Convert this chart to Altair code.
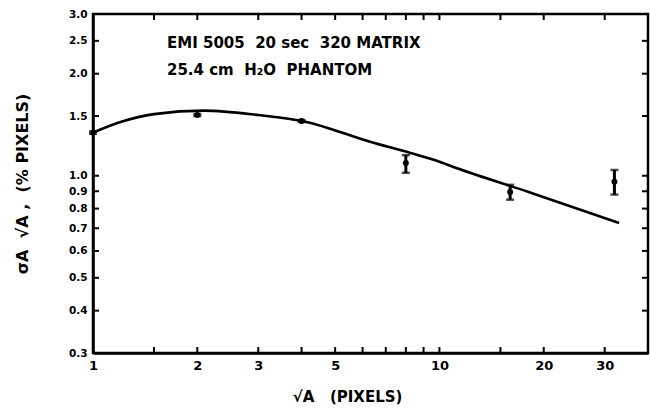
import altair as alt
import pandas as pd

# measured data points (sqrt(A) in pixels, sigma_A*sqrt(A) in % pixels)
pt_x = [1, 2, 4, 8, 16, 32]
pt_y = [1.34, 1.51, 1.45, 1.09, 0.895, 0.96]
pt_lo = [1.33, 1.50, 1.44, 1.02, 0.85, 0.88]
pt_hi = [1.35, 1.52, 1.46, 1.15, 0.94, 1.04]

# fitted curve
curve_x = [1.0, 1.2, 1.5, 2.1, 3.0, 4.1, 6.3, 8.25, 10.0, 11.3, 18.0, 33.0]
curve_y = [1.34, 1.44, 1.52, 1.556, 1.51, 1.444, 1.26, 1.167, 1.10, 1.05, 0.897, 0.725]

x_ticks = [1, 1.5, 2, 3, 4, 5, 6, 7, 8, 9, 10, 15, 20, 30]
x_labels = [1, 2, 3, 5, 10, 20, 30]
y_ticks = [0.3, 0.4, 0.5, 0.6, 0.7, 0.8, 0.9, 1.0, 1.5, 2.0, 2.5, 3.0]

NB = "\u00a0"
note_lines = ["EMI 5005" + NB * 2 + "20 sec" + NB * 2 + "320 MATRIX",
              "25.4 cm" + NB * 2 + "H\u2082O" + NB * 2 + "PHANTOM"]

W, H = 555, 339
FONT = "DejaVu Sans"

pts = pd.DataFrame({"x": pt_x, "y": pt_y, "lo": pt_lo, "hi": pt_hi})
curve = pd.DataFrame({"x": curve_x, "y": curve_y})
xt = pd.DataFrame({"x": x_ticks})
yt = pd.DataFrame({"y": y_ticks})

xscale = alt.Scale(type="log", domain=[1, 40], nice=False)
yscale = alt.Scale(type="log", domain=[0.3, 3.0], nice=False)

xaxis = alt.Axis(values=x_labels, ticks=False, grid=False, labelFlush=False,
                 domainColor="black", domainWidth=2.5,
                 labelFont=FONT, labelFontWeight="bold", labelFontSize=13,
                 labelColor="black", labelPadding=6,
                 title="\u221aA" + NB * 3 + "(PIXELS)", titleFont=FONT, titleFontSize=15,
                 titleFontWeight="bold", titleColor="black",
                 titleX=254, titleY=48, titleBaseline="alphabetic")
yaxis = alt.Axis(values=y_ticks, ticks=False, grid=False, labelFlush=False,
                 labelExpr="format(datum.value, '.1f')",
                 domainColor="black", domainWidth=2.5,
                 labelFont=FONT, labelFontWeight="bold", labelFontSize=10.5,
                 labelColor="black", labelPadding=6,
                 title="\u03c3A" + NB * 2 + "\u221aA ," + NB * 2 + "(% PIXELS)", titleFont=FONT,
                 titleFontSize=16, titleFontWeight="bold", titleColor="black",
                 titleX=-71, titleY=H / 2, titleAngle=270,
                 titleAlign="center", titleBaseline="middle")

line = alt.Chart(curve).mark_line(color="black", strokeWidth=2.6,
                                  interpolate="monotone", clip=True).encode(
    x=alt.X("x:Q", scale=xscale, axis=xaxis),
    y=alt.Y("y:Q", scale=yscale, axis=yaxis),
)

dots = alt.Chart(pts).mark_circle(color="black", size=36, opacity=1).encode(
    x=alt.X("x:Q", scale=xscale), y=alt.Y("y:Q", scale=yscale))

bars = alt.Chart(pts).mark_rule(color="black", strokeWidth=3).encode(
    x=alt.X("x:Q", scale=xscale), y=alt.Y("lo:Q", scale=yscale), y2="hi:Q")

caps_lo = alt.Chart(pts).mark_tick(color="black", orient="horizontal",
                                   size=8, thickness=2.5).encode(
    x=alt.X("x:Q", scale=xscale), y=alt.Y("lo:Q", scale=yscale))
caps_hi = alt.Chart(pts).mark_tick(color="black", orient="horizontal",
                                   size=8, thickness=2.5).encode(
    x=alt.X("x:Q", scale=xscale), y=alt.Y("hi:Q", scale=yscale))

tb = alt.Chart(xt).mark_rule(color="black", strokeWidth=2).encode(
    x=alt.X("x:Q", scale=xscale), y=alt.value(H), y2=alt.value(H - 6))
tt = alt.Chart(xt).mark_rule(color="black", strokeWidth=2).encode(
    x=alt.X("x:Q", scale=xscale), y=alt.value(0), y2=alt.value(6))
tl = alt.Chart(yt).mark_rule(color="black", strokeWidth=2).encode(
    y=alt.Y("y:Q", scale=yscale), x=alt.value(0), x2=alt.value(6))
tr = alt.Chart(yt).mark_rule(color="black", strokeWidth=2).encode(
    y=alt.Y("y:Q", scale=yscale), x=alt.value(W), x2=alt.value(W - 6))

note1 = alt.Chart(pd.DataFrame({"t": [note_lines[0]]})).mark_text(
    align="left", baseline="middle", font=FONT, fontWeight="bold",
    fontSize=15, color="black").encode(text="t:N", x=alt.value(74), y=alt.value(29))
note2 = alt.Chart(pd.DataFrame({"t": [note_lines[1]]})).mark_text(
    align="left", baseline="middle", font=FONT, fontWeight="bold",
    fontSize=15, color="black").encode(text="t:N", x=alt.value(74), y=alt.value(56))

chart = alt.layer(line, tb, tt, tl, tr, bars, caps_lo, caps_hi, dots, note1, note2).properties(
    width=W, height=H,
    autosize=alt.AutoSizeParams(type="none"),
    padding={"left": 93, "top": 14, "right": 2, "bottom": 62},
    background="white",
).configure_view(stroke="black", strokeWidth=2.5)

chart.save("out.html", embed_options={"renderer": "svg", "actions": False})
